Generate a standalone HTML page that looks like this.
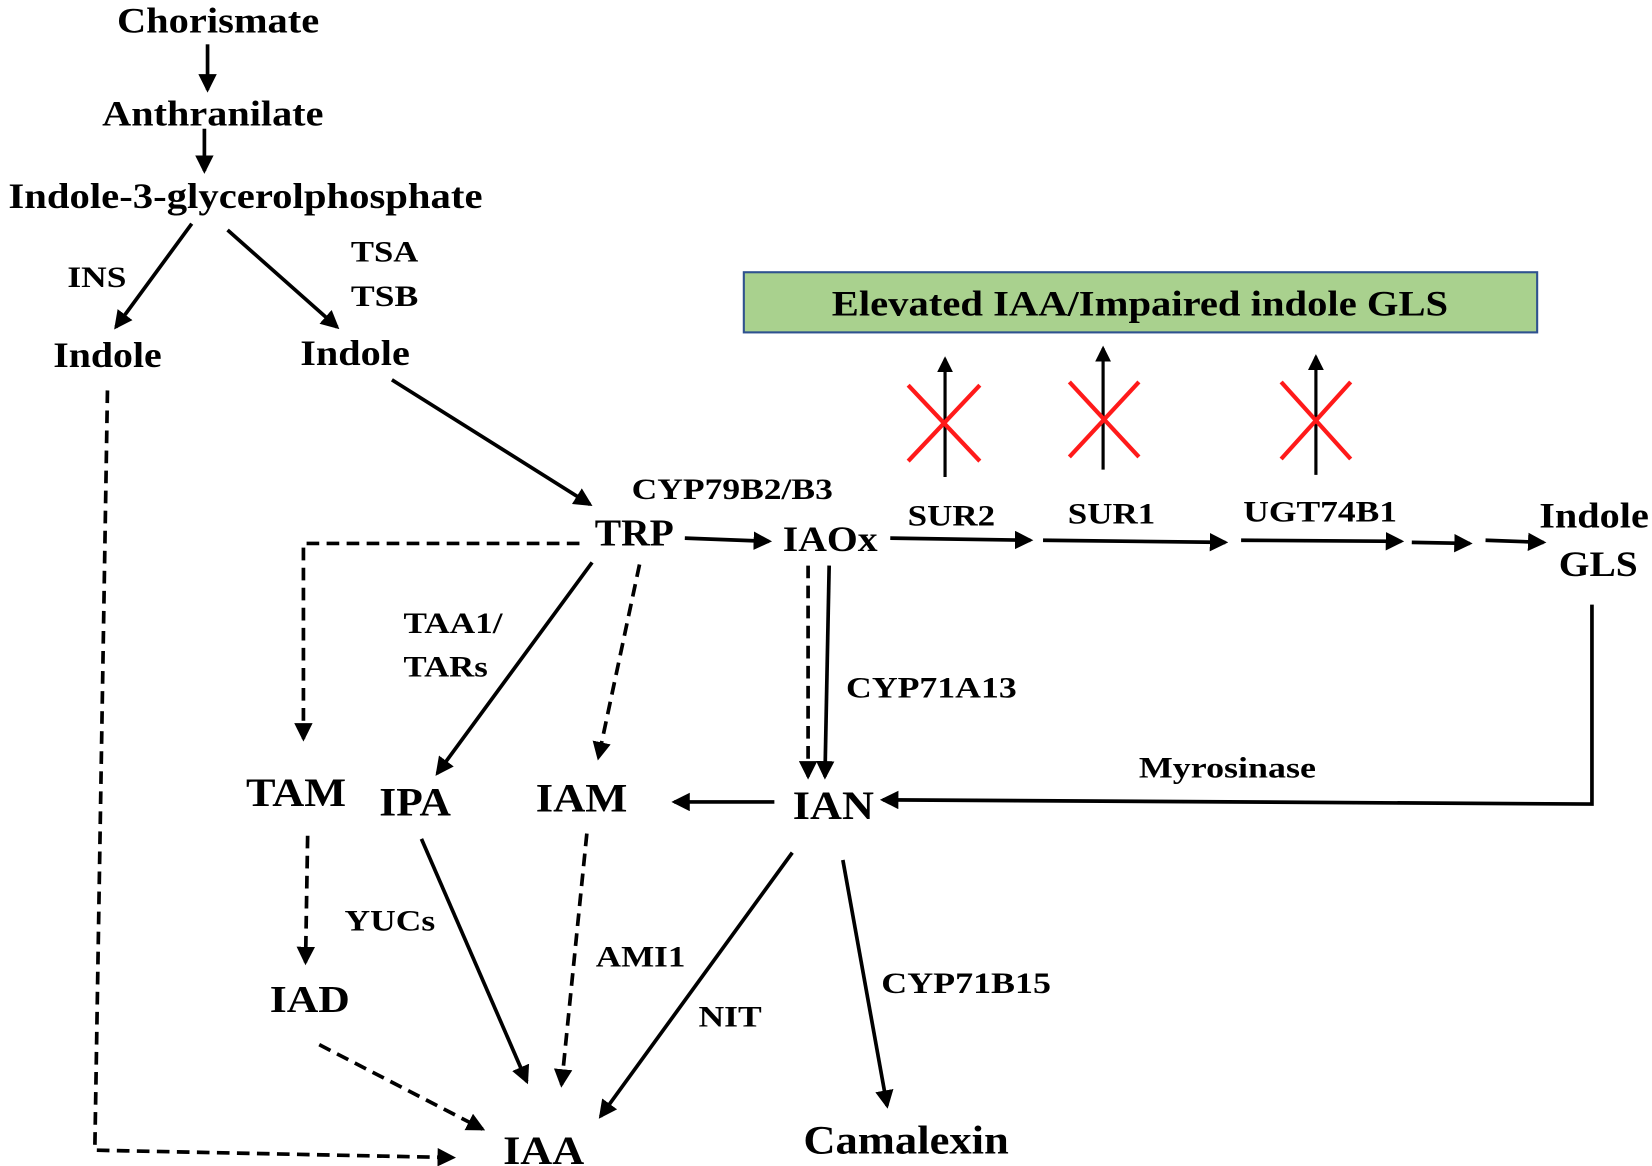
<!DOCTYPE html>
<html><head><meta charset="utf-8"><style>
html,body{margin:0;padding:0;background:#fff;}
svg{display:block;}
text{font-family:"Liberation Serif",serif;font-weight:bold;fill:#000;text-anchor:middle;}
</style></head><body>
<svg width="1652" height="1166" viewBox="0 0 1568 1105" preserveAspectRatio="none" xmlns="http://www.w3.org/2000/svg">
<defs>
<marker id="a" markerWidth="5" markerHeight="5" refX="4.2" refY="2.5" orient="auto" markerUnits="strokeWidth">
<path d="M0,0 L5,2.5 L0,5 z" fill="#000"/>
</marker>
</defs>
<g stroke="#000" stroke-width="3.5" fill="none" marker-end="url(#a)">
<line x1="197" y1="42" x2="197" y2="85"/>
<line x1="194" y1="122" x2="194" y2="162"/>
<line x1="182" y1="212" x2="110" y2="310"/>
<line x1="216" y1="218" x2="320" y2="310"/>
<line x1="372" y1="360" x2="560" y2="478"/>
<line x1="650" y1="510" x2="730" y2="513"/>
<line x1="845" y1="510" x2="978" y2="512"/>
<line x1="990" y1="512" x2="1163" y2="514"/>
<line x1="1178" y1="512" x2="1330" y2="513"/>
<line x1="1340" y1="514" x2="1395" y2="515"/>
<line x1="1410" y1="512" x2="1465" y2="514"/>
<line x1="897" y1="452" x2="897" y2="340" stroke-width="3"/>
<line x1="1047" y1="445" x2="1047" y2="330" stroke-width="3"/>
<line x1="1249" y1="450" x2="1249" y2="338" stroke-width="3"/>
<line x1="562" y1="533" x2="415" y2="733"/>
<line x1="787" y1="536" x2="783" y2="736"/>
<line x1="735" y1="760" x2="640" y2="760"/>
<polyline points="1511,573 1511,762 838,758"/>
<line x1="400" y1="795" x2="500" y2="1025"/>
<line x1="752" y1="808" x2="570" y2="1058"/>
<line x1="800" y1="815" x2="842" y2="1048"/>
</g>
<g stroke="#000" stroke-width="3.5" fill="none" stroke-dasharray="12,7" marker-end="url(#a)">
<polyline points="102,370 90,1090 430,1097"/>
<polyline points="550,515 288,515 288,700"/>
<line x1="607" y1="535" x2="568" y2="718"/>
<line x1="767" y1="536" x2="767" y2="736"/>
<line x1="292" y1="792" x2="290" y2="912"/>
<line x1="303" y1="990" x2="458" y2="1070"/>
<line x1="557" y1="790" x2="533" y2="1028"/>
</g>
<g stroke="#ff1a1a" stroke-width="4">
<line x1="862" y1="365" x2="930" y2="437"/><line x1="930" y1="365" x2="862" y2="437"/>
<line x1="1015" y1="362" x2="1081" y2="433"/><line x1="1081" y1="362" x2="1015" y2="433"/>
<line x1="1216" y1="362" x2="1282" y2="435"/><line x1="1282" y1="362" x2="1216" y2="435"/>
</g>
<rect x="706" y="258" width="753" height="57" fill="#a9d18e" stroke="#2f528f" stroke-width="2"/>
<g lengthAdjust="spacingAndGlyphs">
<text x="1082" y="299" font-size="34" textLength="585" lengthAdjust="spacingAndGlyphs">Elevated IAA/Impaired indole GLS</text>
<text x="207" y="31" font-size="34" textLength="192" lengthAdjust="spacingAndGlyphs">Chorismate</text>
<text x="202" y="119" font-size="34" textLength="210" lengthAdjust="spacingAndGlyphs">Anthranilate</text>
<text x="233" y="197" font-size="34" textLength="450" lengthAdjust="spacingAndGlyphs">Indole-3-glycerolphosphate</text>
<text x="92" y="272" font-size="28" textLength="56" lengthAdjust="spacingAndGlyphs">INS</text>
<text x="365" y="248" font-size="28" textLength="64" lengthAdjust="spacingAndGlyphs">TSA</text>
<text x="365" y="290" font-size="28" textLength="64" lengthAdjust="spacingAndGlyphs">TSB</text>
<text x="102" y="348" font-size="34" textLength="103" lengthAdjust="spacingAndGlyphs">Indole</text>
<text x="337" y="346" font-size="34" textLength="104" lengthAdjust="spacingAndGlyphs">Indole</text>
<text x="695" y="473" font-size="28" textLength="191" lengthAdjust="spacingAndGlyphs">CYP79B2/B3</text>
<text x="602" y="517" font-size="36" textLength="75" lengthAdjust="spacingAndGlyphs">TRP</text>
<text x="788" y="522" font-size="34" textLength="90" lengthAdjust="spacingAndGlyphs">IAOx</text>
<text x="903" y="498" font-size="28" textLength="83" lengthAdjust="spacingAndGlyphs">SUR2</text>
<text x="1055" y="496" font-size="28" textLength="83" lengthAdjust="spacingAndGlyphs">SUR1</text>
<text x="1253" y="494" font-size="28" textLength="146" lengthAdjust="spacingAndGlyphs">UGT74B1</text>
<text x="1513" y="500" font-size="34" textLength="104" lengthAdjust="spacingAndGlyphs">Indole</text>
<text x="1517" y="546" font-size="34" textLength="75" lengthAdjust="spacingAndGlyphs">GLS</text>
<text x="430" y="600" font-size="28" textLength="94" lengthAdjust="spacingAndGlyphs">TAA1/</text>
<text x="423" y="641" font-size="28" textLength="80" lengthAdjust="spacingAndGlyphs">TARs</text>
<text x="884" y="661" font-size="28" textLength="162" lengthAdjust="spacingAndGlyphs">CYP71A13</text>
<text x="1165" y="737" font-size="28" textLength="168" lengthAdjust="spacingAndGlyphs">Myrosinase</text>
<text x="281" y="764" font-size="38" textLength="95" lengthAdjust="spacingAndGlyphs">TAM</text>
<text x="394" y="773" font-size="38" textLength="68" lengthAdjust="spacingAndGlyphs">IPA</text>
<text x="552" y="769" font-size="38" textLength="87" lengthAdjust="spacingAndGlyphs">IAM</text>
<text x="791" y="776" font-size="38" textLength="77" lengthAdjust="spacingAndGlyphs">IAN</text>
<text x="370" y="882" font-size="28" textLength="86" lengthAdjust="spacingAndGlyphs">YUCs</text>
<text x="608" y="916" font-size="28" textLength="85" lengthAdjust="spacingAndGlyphs">AMI1</text>
<text x="693" y="973" font-size="28" textLength="60" lengthAdjust="spacingAndGlyphs">NIT</text>
<text x="917" y="941" font-size="28" textLength="161" lengthAdjust="spacingAndGlyphs">CYP71B15</text>
<text x="294" y="959" font-size="36" textLength="76" lengthAdjust="spacingAndGlyphs">IAD</text>
<text x="516" y="1103" font-size="38" textLength="77" lengthAdjust="spacingAndGlyphs">IAA</text>
<text x="860" y="1093" font-size="38" textLength="195" lengthAdjust="spacingAndGlyphs">Camalexin</text>
</g>
</svg>
</body></html>
